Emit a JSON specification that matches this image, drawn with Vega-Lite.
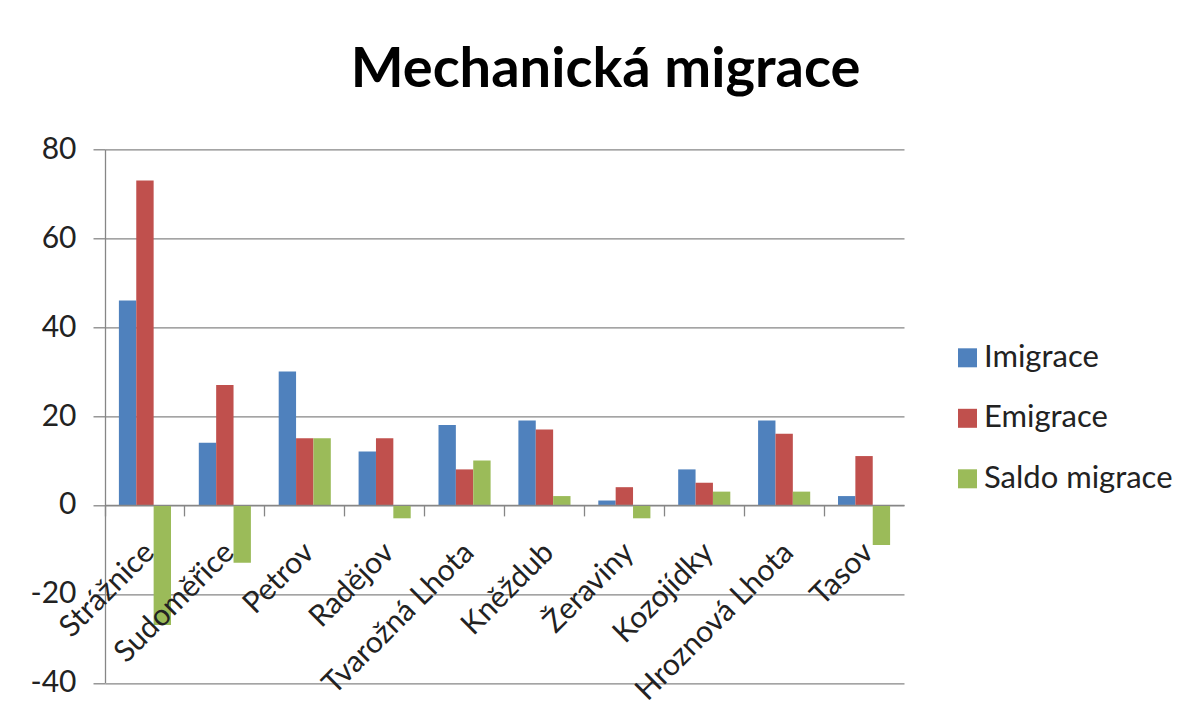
{
  "$schema": "https://vega.github.io/schema/vega-lite/v6.json",
  "width": 799,
  "height": 533.5,
  "autosize": {"type": "none"},
  "padding": {"left": 105, "top": 149.3, "right": 293, "bottom": 30},
  "background": "white",
  "title": {"text": "Mechanická migrace", "font": "Lato", "fontSize": 56, "fontWeight": "bold", "color": "#000000", "anchor": "middle", "frame": "group", "dx": 101, "dy": 52, "offset": 43, "baseline": "alphabetic"},
  "config": {"view": {"stroke": null}, "font": "Lato"},
  "data": {"values": [
    {"obec": "Strážnice", "rada": "Imigrace", "hodnota": 46},
    {"obec": "Strážnice", "rada": "Emigrace", "hodnota": 73},
    {"obec": "Strážnice", "rada": "Saldo migrace", "hodnota": -27},
    {"obec": "Sudoměřice", "rada": "Imigrace", "hodnota": 14},
    {"obec": "Sudoměřice", "rada": "Emigrace", "hodnota": 27},
    {"obec": "Sudoměřice", "rada": "Saldo migrace", "hodnota": -13},
    {"obec": "Petrov", "rada": "Imigrace", "hodnota": 30},
    {"obec": "Petrov", "rada": "Emigrace", "hodnota": 15},
    {"obec": "Petrov", "rada": "Saldo migrace", "hodnota": 15},
    {"obec": "Radějov", "rada": "Imigrace", "hodnota": 12},
    {"obec": "Radějov", "rada": "Emigrace", "hodnota": 15},
    {"obec": "Radějov", "rada": "Saldo migrace", "hodnota": -3},
    {"obec": "Tvarožná Lhota", "rada": "Imigrace", "hodnota": 18},
    {"obec": "Tvarožná Lhota", "rada": "Emigrace", "hodnota": 8},
    {"obec": "Tvarožná Lhota", "rada": "Saldo migrace", "hodnota": 10},
    {"obec": "Kněždub", "rada": "Imigrace", "hodnota": 19},
    {"obec": "Kněždub", "rada": "Emigrace", "hodnota": 17},
    {"obec": "Kněždub", "rada": "Saldo migrace", "hodnota": 2},
    {"obec": "Žeraviny", "rada": "Imigrace", "hodnota": 1},
    {"obec": "Žeraviny", "rada": "Emigrace", "hodnota": 4},
    {"obec": "Žeraviny", "rada": "Saldo migrace", "hodnota": -3},
    {"obec": "Kozojídky", "rada": "Imigrace", "hodnota": 8},
    {"obec": "Kozojídky", "rada": "Emigrace", "hodnota": 5},
    {"obec": "Kozojídky", "rada": "Saldo migrace", "hodnota": 3},
    {"obec": "Hroznová Lhota", "rada": "Imigrace", "hodnota": 19},
    {"obec": "Hroznová Lhota", "rada": "Emigrace", "hodnota": 16},
    {"obec": "Hroznová Lhota", "rada": "Saldo migrace", "hodnota": 3},
    {"obec": "Tasov", "rada": "Imigrace", "hodnota": 2},
    {"obec": "Tasov", "rada": "Emigrace", "hodnota": 11},
    {"obec": "Tasov", "rada": "Saldo migrace", "hodnota": -9}
  ]},
  "mark": {"type": "bar"},
  "encoding": {
    "x": {
      "field": "obec", "type": "nominal", "sort": null,
      "scale": {"paddingInner": 0, "paddingOuter": 0},
      "axis": {"title": null, "orient": "bottom", "offset": -177.9, "bandPosition": 0, "labelOffset": -6, "labelAngle": -45, "labelAlign": "right", "labelBaseline": "top", "labelPadding": 21, "labelFont": "Lato", "labelFontSize": 30, "labelColor": "#222222", "labelLimit": 0, "tickColor": "#868686", "tickSize": 11, "tickWidth": 1.3, "domainColor": "#868686", "domainWidth": 1.3, "grid": false, "labelOverlap": false, "labelBound": false, "labelFlush": false, "zindex": 1}
    },
    "xOffset": {"field": "rada", "type": "nominal", "sort": ["Imigrace", "Emigrace", "Saldo migrace"], "scale": {"paddingInner": 0, "paddingOuter": 0.8}},
    "y": {
      "field": "hodnota", "type": "quantitative",
      "scale": {"domain": [-40, 80], "nice": false},
      "axis": {"title": null, "values": [-40, -20, 0, 20, 40, 60, 80], "labelExpr": "replace(datum.label, '−', '-')", "labelFont": "Lato", "labelFontSize": 30, "labelColor": "#222222", "labelPadding": 17, "tickSize": 12, "tickColor": "#868686", "tickWidth": 1.3, "domainColor": "#868686", "domainWidth": 1.3, "gridColor": "#868686", "gridWidth": 1.3}
    },
    "color": {
      "field": "rada", "type": "nominal", "sort": ["Imigrace", "Emigrace", "Saldo migrace"],
      "scale": {"domain": ["Imigrace", "Emigrace", "Saldo migrace"], "range": ["#4F81BD", "#C0504D", "#9BBB59"]},
      "legend": {"title": null, "orient": "none", "legendX": 847, "legendY": 193, "symbolType": "square", "symbolSize": 361, "symbolStrokeWidth": 0, "symbolOpacity": 1, "labelFont": "Lato", "labelFontSize": 31, "labelColor": "#222222", "labelLimit": 0, "rowPadding": 28.5, "labelOffset": 1, "padding": 0}
    }
  }
}
